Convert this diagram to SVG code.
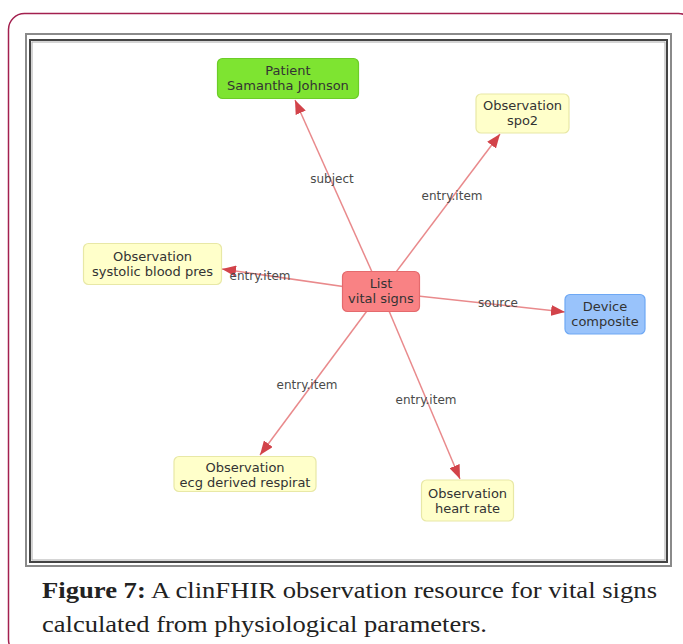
<svg xmlns="http://www.w3.org/2000/svg" width="683" height="644" viewBox="0 0 683 644">
<style>
.ntext{font-family:"DejaVu Sans",Verdana,sans-serif;font-size:13px;fill:#333;text-anchor:middle}
.elabel{font-family:"DejaVu Sans",Verdana,sans-serif;font-size:12px;fill:#4a4a4a;text-anchor:middle}
.edge{stroke:#e98a8c;stroke-width:1.5;fill:none;marker-end:url(#arr)}
.obs{fill:#ffffca;stroke:#e8e8a6;stroke-width:1.2}
.cap{font-family:"Liberation Serif","Times New Roman",serif;font-size:24px;fill:#222}
</style>
<defs>
<marker id="arr" markerUnits="userSpaceOnUse" markerWidth="15" markerHeight="11" refX="14" refY="5.5" orient="auto">
<path d="M0,0 L14,5.5 L0,11 z" fill="#d2434a"/>
</marker>
</defs>
<rect x="0" y="0" width="683" height="644" fill="#fff"/>
<rect x="8.5" y="13.5" width="686" height="642" rx="16" fill="none" stroke="#a3204f" stroke-width="1.5"/>
<rect x="26" y="34" width="645" height="532" fill="none" stroke="#8a8a8a" stroke-width="2"/>
<rect x="30" y="40" width="637" height="522" fill="none" stroke="#444" stroke-width="2"/>
<rect x="32" y="42" width="633" height="518" fill="none" stroke="#aaa" stroke-width="1"/>
<g id="connectors">
<line class="edge" x1="381" y1="292" x2="295" y2="100"/>
<line class="edge" x1="381" y1="292" x2="500" y2="134"/>
<line class="edge" x1="381" y1="292" x2="222" y2="269"/>
<line class="edge" x1="381" y1="292" x2="565" y2="312"/>
<line class="edge" x1="381" y1="292" x2="260" y2="455"/>
<line class="edge" x1="381" y1="292" x2="460" y2="479"/>
<text class="elabel" x="332" y="183">subject</text>
<text class="elabel" x="452" y="200">entry.item</text>
<text class="elabel" x="260" y="280">entry.item</text>
<text class="elabel" x="498" y="307">source</text>
<text class="elabel" x="307" y="389">entry.item</text>
<text class="elabel" x="426" y="404">entry.item</text>
</g>
<g id="patient">
<rect x="217.5" y="58.5" width="141" height="40" rx="5" fill="#7ee431" stroke="#6ccd28" stroke-width="1.2"/>
<text class="ntext" x="288" y="75">Patient</text>
<text class="ntext" x="288" y="90">Samantha Johnson</text>
</g>
<g id="spo2">
<rect class="obs" x="476" y="94" width="93" height="39" rx="5"/>
<text class="ntext" x="522.5" y="110">Observation</text>
<text class="ntext" x="522.5" y="125">spo2</text>
</g>
<g id="systolic">
<rect class="obs" x="83.5" y="243.5" width="138" height="41" rx="5"/>
<text class="ntext" x="152.5" y="261">Observation</text>
<text class="ntext" x="152.5" y="276">systolic blood pres</text>
</g>
<g id="list">
<rect x="342.5" y="271.5" width="77" height="40" rx="5" fill="#f98284" stroke="#e46a6d" stroke-width="1.2"/>
<text class="ntext" x="381" y="288">List</text>
<text class="ntext" x="381" y="303">vital signs</text>
</g>
<g id="device">
<rect x="565" y="294.5" width="80" height="39.5" rx="5" fill="#99c3fb" stroke="#6ea8f4" stroke-width="1.2"/>
<text class="ntext" x="605" y="311">Device</text>
<text class="ntext" x="605" y="326">composite</text>
</g>
<g id="ecg">
<rect class="obs" x="174" y="456.5" width="142" height="35" rx="5"/>
<text class="ntext" x="245" y="472">Observation</text>
<text class="ntext" x="245" y="487">ecg derived respirat</text>
</g>
<g id="heartrate">
<rect class="obs" x="421.5" y="480" width="92" height="41" rx="5"/>
<text class="ntext" x="467.5" y="498">Observation</text>
<text class="ntext" x="467.5" y="513">heart rate</text>
</g>
<text class="cap" x="42" y="598" textLength="615" lengthAdjust="spacingAndGlyphs"><tspan font-weight="bold">Figure 7:</tspan> A clinFHIR observation resource for vital signs</text>
<text class="cap" x="42" y="632" textLength="445" lengthAdjust="spacingAndGlyphs">calculated from physiological parameters.</text>
</svg>
